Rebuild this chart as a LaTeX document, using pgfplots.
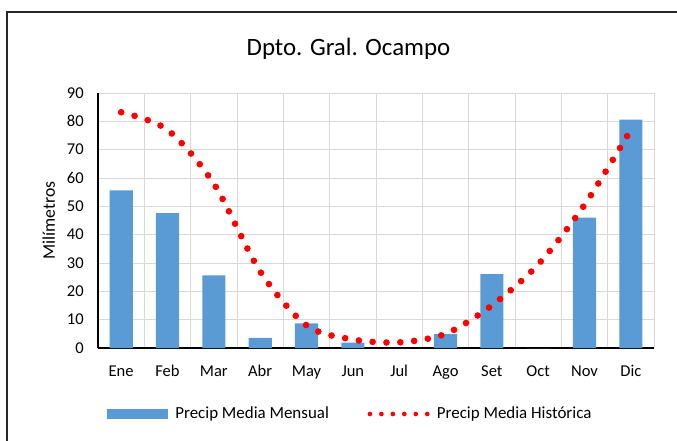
\documentclass[border=0pt]{standalone}
\usepackage{fontspec}
\setmainfont{Carlito}
\usepackage{pgfplots}
\pgfplotsset{compat=1.18}
\definecolor{barblue}{HTML}{5B9BD5}
\definecolor{gridgray}{HTML}{D9D9D9}
\begin{document}
\begin{tikzpicture}
\begin{axis}[
  at={(73.5pt,69pt)}, anchor=south west,
  scale only axis, width=417pt, height=191.25pt,
  xmin=-0.5, xmax=11.5, ymin=0, ymax=90,
  xtick={0,...,11},
  xticklabels={Ene,Feb,Mar,Abr,May,Jun,Jul,Ago,Set,Oct,Nov,Dic},
  minor xtick={0.5,1.5,...,11.5},
  ytick={0,10,...,90},
  ymajorgrids, xminorgrids,
  major grid style={gridgray, line width=0.75pt},
  minor grid style={gridgray, line width=0.75pt},
  tick style={draw=none},
  axis x line*=bottom, axis y line*=left,
  x axis line style={-, black, line width=1.5pt},
  y axis line style={-, black, line width=1pt},
  /pgf/number format/assume math mode=true,
  yticklabel style={font=\fontsize{12.4}{14}\selectfont, inner sep=0pt, anchor=east, xshift=-10.5pt},
  xticklabel style={font=\fontsize{12.4}{14}\selectfont, inner sep=0pt, anchor=north, text height=7.8pt, text depth=2.5pt, yshift=-13pt},
  ylabel={Milímetros},
  every axis y label/.style={at={(axis description cs:-0.0887,0.5)}, anchor=center, rotate=90, font=\fontsize{13.3}{16}\selectfont},
  legend columns=2,
  legend cell align=left,
  legend style={at={(axis description cs:0.0162,-0.2588)}, anchor=west, draw=none, fill=none,
    inner sep=0pt, outer sep=0pt, font=\fontsize{12.7}{14}\selectfont,
    nodes={inner sep=0pt},
    /tikz/every odd column/.append style={column sep=5.5pt},
    /tikz/every even column/.append style={column sep=29pt}},
]
\addplot[ybar, bar width=0.5, fill=barblue, draw=none,
  legend image code/.code={\fill[barblue] (0pt,-3.4pt) rectangle (45.75pt,3.4pt);}]
  coordinates {(0,55.6) (1,47.6) (2,25.6) (3,3.6) (4,8.7) (5,1.9) (6,0) (7,4.9) (8,26.1) (9,0) (10,46.0) (11,80.6)};
\addlegendentry{Precip Media Mensual}
\addplot[red, smooth, line width=5pt, line cap=round, dash pattern=on 0pt off 10.4pt,
  legend image code/.code={\path[draw=none, fill=none] (0pt,0pt) -- (46.5pt,0pt);
    \foreach \k in {0,...,5} {\fill[red, draw=none] (1.75pt+\k*8.6pt,0pt) circle[radius=1.75pt];}}]
  coordinates {(0,83.2) (1,77) (2,58) (3,27) (4,8) (5,3) (6,2) (7,5) (8,15) (9,29.5) (10,50.5) (11,77)};
\addlegendentry{Precip Media Histórica}
\end{axis}
\node[anchor=base, font=\fontsize{18.7}{22}\selectfont] at (261.4pt,288pt) {Dpto. Gral. Ocampo};
\draw[line width=0.9pt, black!85] (5.25pt,-5pt) -- (5.25pt,321pt) -- (515pt,321pt);
\pgfresetboundingbox
\useasboundingbox (0,0) rectangle (507.75pt,330pt);
\end{tikzpicture}
\end{document}
